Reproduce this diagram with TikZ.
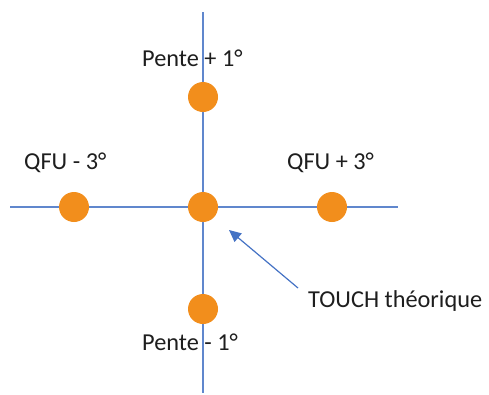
\documentclass[tikz,border=0pt]{standalone}
\usepackage{fontspec}
\setmainfont{Carlito}
\usetikzlibrary{arrows.meta}
\definecolor{axisblue}{HTML}{4472C4}
\definecolor{dotorange}{HTML}{F28E1C}
\definecolor{txt}{HTML}{1E1E1E}
\begin{document}
\begin{tikzpicture}[x=1bp,y=-1bp,
  axis/.style={draw=axisblue!85, line width=1.2bp},
  dot/.style={circle, fill=dotorange, minimum size=30bp, inner sep=0pt},
  lbl/.style={anchor=base west, inner sep=0pt, text=txt, font=\fontsize{24.4}{28}\selectfont},
  pointer/.style={draw=axisblue, line width=1.2bp, -{Triangle[length=12bp,width=11bp]}}]
\useasboundingbox (0,0) rectangle (489,394);
\coordinate (vtop) at (203,12);
\coordinate (vbot) at (203,393);
\coordinate (hleft) at (10,207);
\coordinate (hright) at (398,207);
\draw[axis] (vtop) -- (vbot);
\draw[axis] (hleft) -- (hright);
\node[dot] (up) at (203,97) {};
\node[dot] (center) at (203,207) {};
\node[dot] (left) at (74,207) {};
\node[dot] (right) at (332,207) {};
\node[dot] (down) at (203,309) {};
\node[lbl] (lup) at (142,66) {Pente + 1°};
\node[lbl] (lleft) at (24,169) {QFU - 3°};
\node[lbl] (lright) at (287,169) {QFU + 3°};
\node[lbl] (ldown) at (142,350) {Pente - 1°};
\node[lbl] (ltouch) at (308,307) {TOUCH théorique};
\coordinate (atail) at (298,288);
\coordinate (atip) at (229,230);
\draw[pointer] (atail) -- (atip);
\end{tikzpicture}
\end{document}
